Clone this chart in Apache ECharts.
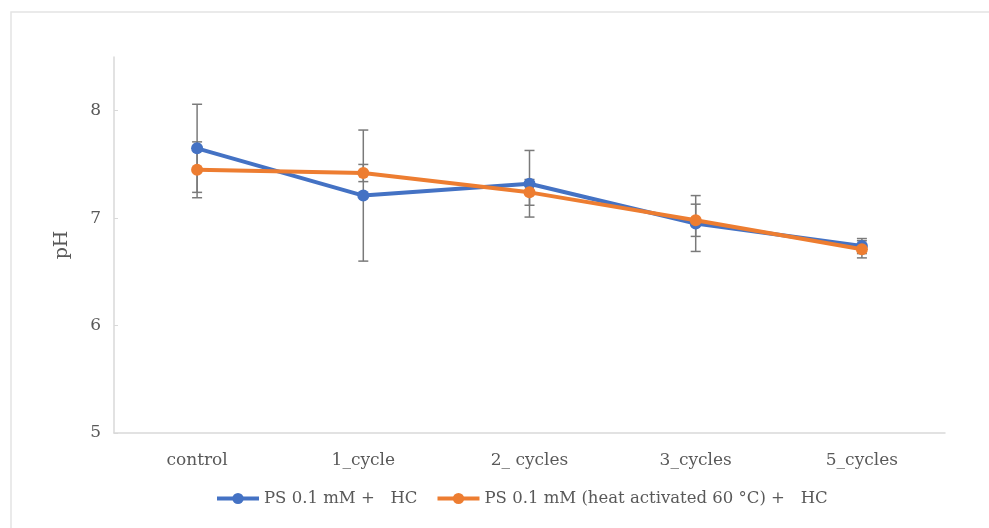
<!DOCTYPE html>
<html><head><meta charset="utf-8">
<script src="https://cdn.jsdelivr.net/npm/echarts@6/dist/echarts.min.js"></script>
<style>html,body{margin:0;padding:0;background:#fff}#c{width:989px;height:528px}</style>
</head><body><div id="c"></div>
<script>
const categories = ['control', '1_cycle', '2_ cycles', '3_cycles', '5_cycles'];
const seriesNames = ['PS 0.1 mM +   HC', 'PS 0.1 mM (heat activated 60 °C) +   HC'];
const blueMean = [7.65, 7.21, 7.32, 6.95, 6.74];
const blueErr = [0.41, 0.61, 0.31, 0.26, 0.07];
const orangeMean = [7.45, 7.42, 7.24, 6.98, 6.71];
const orangeErr = [0.26, 0.08, 0.12, 0.15, 0.08];
const yTicks = [5, 6, 7, 8];

const FONT = 'DejaVu Serif';
const chart = echarts.init(document.getElementById('c'));

function errSeries(mean, err) {
  return {
    type: 'custom', silent: true, z: 1,
    data: mean.map((m, i) => [i, m - err[i], m + err[i]]),
    renderItem: function (params, api) {
      const x = api.value(0);
      const lo = api.coord([x, api.value(1)]);
      const hi = api.coord([x, api.value(2)]);
      const w = 5;
      const st = { stroke: '#7a7a7a', lineWidth: 1.5 };
      return { type: 'group', children: [
        { type: 'line', shape: { x1: hi[0], y1: hi[1], x2: lo[0], y2: lo[1] }, style: st },
        { type: 'line', shape: { x1: hi[0] - w, y1: hi[1], x2: hi[0] + w, y2: hi[1] }, style: st },
        { type: 'line', shape: { x1: lo[0] - w, y1: lo[1], x2: lo[0] + w, y2: lo[1] }, style: st }
      ]};
    }
  };
}

chart.setOption({
  animation: false,
  backgroundColor: '#fff',
  graphic: [{ type: 'rect', shape: { x: 11, y: 12, width: 1000, height: 540 }, style: { fill: 'none', stroke: '#e4e4e4', lineWidth: 1.5 }, z: -1 }],
  grid: { left: 114, right: 44, top: 57, bottom: 95 },
  legend: {
    bottom: 16, left: 210, itemWidth: 42, itemHeight: 14, itemGap: 18,
    lineStyle: { width: 4 },
    textStyle: { fontFamily: FONT, fontSize: 16.5, color: '#595959' },
    data: seriesNames
  },
  xAxis: {
    type: 'category', data: categories, boundaryGap: true,
    axisLine: { lineStyle: { color: '#d9d9d9', width: 1.5 } },
    axisTick: { show: false },
    axisLabel: { fontFamily: FONT, fontSize: 17, color: '#595959', margin: 19 }
  },
  yAxis: {
    type: 'value', min: 5, max: 8.5, interval: 1,
    name: 'pH', nameLocation: 'middle', nameGap: 42, nameRotate: 90,
    nameTextStyle: { fontFamily: FONT, fontSize: 19, color: '#595959' },
    axisLine: { show: true, lineStyle: { color: '#d9d9d9', width: 1.5 } },
    axisTick: { show: true, inside: true, length: 4, customValues: yTicks, lineStyle: { color: '#d9d9d9' } },
    splitLine: { show: false },
    axisLabel: { fontFamily: FONT, fontSize: 17, color: '#595959', margin: 13, customValues: yTicks }
  },
  series: [
    errSeries(blueMean, blueErr),
    errSeries(orangeMean, orangeErr),
    { name: seriesNames[0], type: 'line', data: blueMean, z: 3, symbol: 'circle', symbolSize: 12,
      itemStyle: { color: '#4472c4' }, lineStyle: { width: 4, color: '#4472c4' } },
    { name: seriesNames[1], type: 'line', data: orangeMean, z: 4, symbol: 'circle', symbolSize: 12,
      itemStyle: { color: '#ed7d31' }, lineStyle: { width: 4, color: '#ed7d31' } }
  ]
});
</script></body></html>
